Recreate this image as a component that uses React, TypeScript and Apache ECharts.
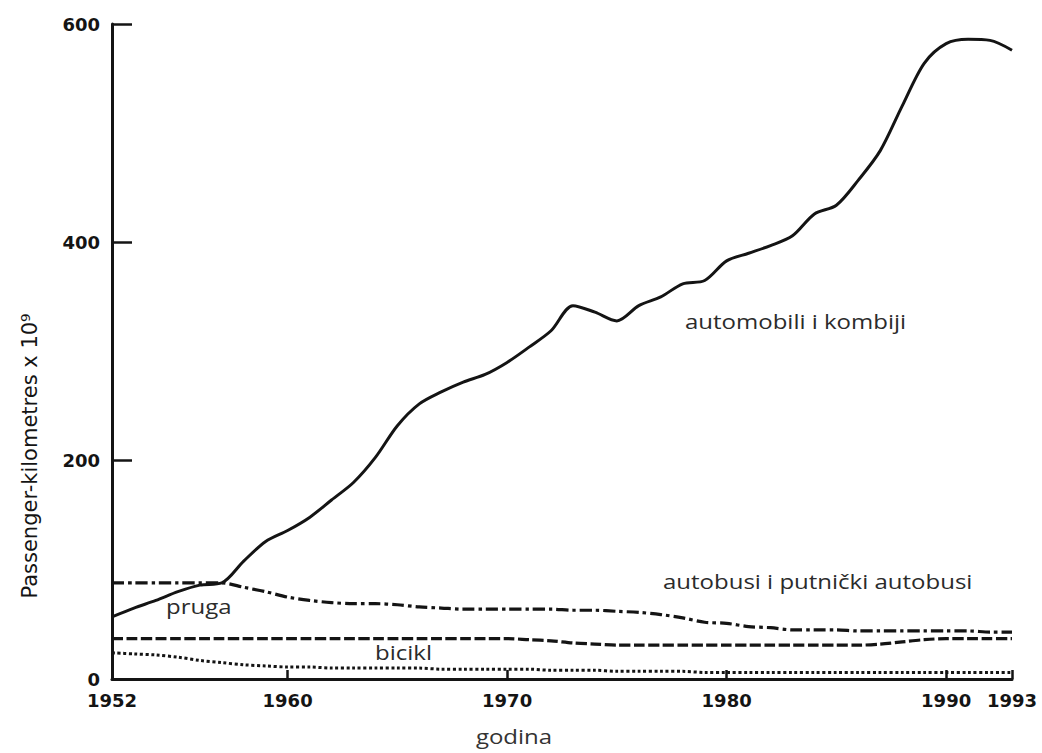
import React, { useEffect, useRef } from "react";
import * as echarts from "echarts";

const years = [
  1952, 1953, 1954, 1955, 1956, 1957, 1958, 1959, 1960, 1961, 1962, 1963, 1964, 1965,
  1966, 1967, 1968, 1969, 1970, 1971, 1972, 1973, 1974, 1975, 1976, 1977, 1978, 1979,
  1980, 1981, 1982, 1983, 1984, 1985, 1986, 1987, 1988, 1989, 1990, 1991, 1992, 1993,
];

// automobili i kombiji (solid)
const cars = [
  57, 65, 72, 80, 86, 88, 108, 126, 136, 148, 164, 180, 203, 232,
  252, 263, 272, 279, 290, 304, 319, 342, 336, 328, 342, 350, 362, 365,
  383, 390, 397, 406, 426, 434, 457, 484, 525, 564, 582, 586, 585, 576,
];

// pruga (dash-dot)
const rail = [
  88, 88, 88, 88, 88, 88, 84, 80, 75, 72, 70, 69, 69, 68,
  66, 65, 64, 64, 64, 64, 64, 63, 63, 62, 61, 59, 56, 52,
  51, 48, 47, 45, 45, 45, 44, 44, 44, 44, 44, 44, 43, 43,
];

// autobusi i putnički autobusi (dashed)
const buses = [
  37, 37, 37, 37, 37, 37, 37, 37, 37, 37, 37, 37, 37, 37,
  37, 37, 37, 37, 37, 36, 35, 33, 32, 31, 31, 31, 31, 31,
  31, 31, 31, 31, 31, 31, 31, 32, 34, 36, 37, 37, 37, 37,
];

// bicikl (dotted)
const bicycles = [
  24, 23, 22, 20, 17, 15, 13, 12, 11, 11, 10, 10, 10, 10,
  10, 9, 9, 9, 9, 9, 8, 8, 8, 7, 7, 7, 7, 6,
  6, 6, 6, 6, 6, 6, 6, 6, 6, 6, 6, 6, 6, 6,
];

const xTickValues = [1960, 1970, 1980, 1990, 1993];
const xLabelValues = [1952, 1960, 1970, 1980, 1990, 1993];

const yTitle = "Passenger-kilometres x 10⁹";
const xTitle = "godina";
const annotations = [
  { text: "automobili i kombiji", x: 685, y: 321 },
  { text: "autobusi i putnički autobusi", x: 663, y: 581 },
  { text: "pruga", x: 166, y: 606 },
  { text: "bicikl", x: 375, y: 652 },
];

const INK = "#141414";
const TEXT = "#2b2b2b";

export default function App() {
  const ref = useRef<HTMLDivElement>(null);

  useEffect(() => {
    if (!ref.current) return;
    const chart = echarts.init(ref.current, undefined, { renderer: "svg" });

    const toPairs = (vals: number[]) => years.map((y, i) => [y, vals[i]]);
    const lineSeries = (name: string, vals: number[], type: any, width: number, smooth: number | boolean) => ({
      name,
      type: "line",
      data: toPairs(vals),
      showSymbol: false,
      symbol: "none",
      smooth,
      lineStyle: { color: INK, width, type, cap: "butt" },
      emphasis: { disabled: true },
      z: 3,
    });

    const labelFont = {
      color: INK,
      fontFamily: "DejaVu Sans",
      fontWeight: "bold" as const,
      fontSize: 18,
    };

    chart.setOption({
      animation: false,
      backgroundColor: "#ffffff",
      grid: { left: 112, right: 30, top: 24, bottom: 74, containLabel: false, outerBoundsMode: "none" },
      xAxis: {
        type: "value",
        min: 1952,
        max: 1993,
        axisLine: { show: true, lineStyle: { color: INK, width: 3 } },
        axisTick: {
          show: true,
          inside: true,
          length: 9,
          customValues: xTickValues,
          lineStyle: { color: INK, width: 2.5 },
        },
        axisLabel: {
          customValues: xLabelValues,
          formatter: (v: number) => String(v),
          ...labelFont,
          margin: 12,
          lineHeight: 18,
        },
        splitLine: { show: false },
      },
      yAxis: {
        type: "value",
        min: 0,
        max: 600,
        interval: 200,
        axisLine: { show: true, lineStyle: { color: INK, width: 3 } },
        axisTick: {
          show: true,
          inside: true,
          length: 20,
          lineStyle: { color: INK, width: 2.5 },
        },
        axisLabel: {
          ...labelFont,
          margin: 12,
          lineHeight: 15,
        },
        splitLine: { show: false },
      },
      series: [
        lineSeries("automobili i kombiji", cars, "solid", 3, 0.3),
        lineSeries("pruga", rail, [12, 4, 3.5, 4], 3.2, 0.3),
        lineSeries("autobusi i putnički autobusi", buses, [11, 3.5], 3.2, 0.3),
        lineSeries("bicikl", bicycles, [3, 2.6], 3, 0.3),
      ],
      graphic: [
        {
          type: "text",
          x: 30,
          y: 456,
          rotation: Math.PI / 2,
          style: {
            text: yTitle,
            fill: INK,
            font: "21px 'DejaVu Sans'",
            align: "center",
            verticalAlign: "middle",
          },
        },
        {
          type: "text",
          x: 514,
          y: 736,
          scaleX: 1.2,
          style: {
            text: xTitle,
            fill: "#333333",
            font: "20px 'Open Sans'",
            lineHeight: 20,
            align: "center",
            verticalAlign: "middle",
          },
        },
        ...annotations.map((a) => ({
          type: "text",
          x: a.x,
          y: a.y,
          scaleX: 1.2,
          style: {
            text: a.text,
            fill: TEXT,
            font: "20px 'Open Sans'",
            align: "left",
            verticalAlign: "middle",
          },
        })),
      ],
    });

    return () => chart.dispose();
  }, []);

  return (
    <div
      ref={ref}
      style={{ position: "fixed", left: 0, top: 0, width: 1042, height: 753, background: "#fff" }}
    />
  );
}
